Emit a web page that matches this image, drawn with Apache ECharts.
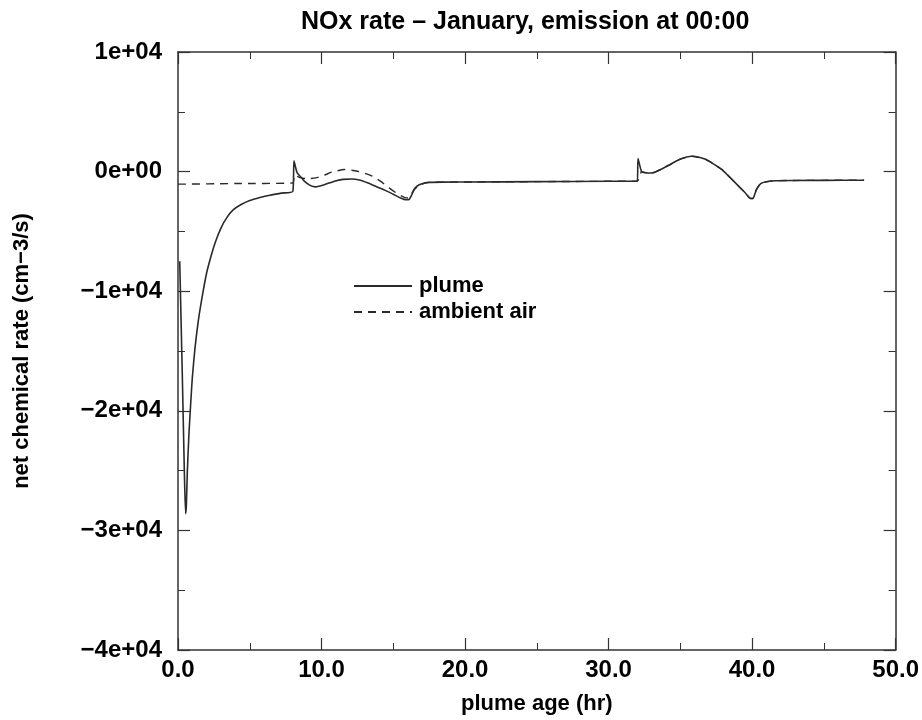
<!DOCTYPE html>
<html>
<head>
<meta charset="utf-8">
<script src="https://cdn.jsdelivr.net/npm/echarts@6/dist/echarts.min.js"></script>
<style>html,body{margin:0;padding:0;background:#fff}#c{width:922px;height:720px}</style>
</head>
<body>
<div id="c"></div>
<script>
// ---- data ----
var titleText = 'NOx rate \u2013 January, emission at 00:00';
var xName = 'plume age (hr)';
var yName = 'net chemical rate (cm\u22123/s)';
var seriesNames = ['plume', 'ambient air'];

var xTickValues = [0, 10, 20, 30, 40, 50];
var xTickLabels = ['0.0', '10.0', '20.0', '30.0', '40.0', '50.0'];
var yTickValues = [10000, 0, -10000, -20000, -30000, -40000];
var yTickLabels = ['1e+04', '0e+00', '\u22121e+04', '\u22122e+04', '\u22123e+04', '\u22124e+04'];

var plumeX = [0.12, 0.3, 0.45, 0.53, 0.58, 0.65, 0.76, 0.88, 1.0, 1.18, 1.4, 1.65, 1.99, 2.27, 2.6, 3.0, 3.4, 3.84, 4.4, 5.0, 5.7, 6.4, 7.2, 8.0,
  8.08, 8.3, 8.6, 8.8, 9.2, 9.6, 10.2, 10.9, 11.5, 12.1, 12.7, 13.2, 13.8, 14.4, 15.0, 15.5, 15.9, 16.1, 16.3, 16.5, 16.8, 17.2, 17.5, 18.5, 20, 25, 30, 32.0,
  32.05, 32.3, 32.6, 33.0, 33.7, 34.3, 34.9, 35.8, 36.7, 37.3, 37.9, 38.3, 38.8, 39.5, 39.9, 40.05, 40.3, 40.6, 41.0, 41.6, 43, 45, 47.8];
var plumeY = [-7500, -17000, -25500, -28600, -28000, -25100, -22000, -19500, -17200, -14800, -12600, -10700, -8500, -7200, -5900, -4700, -3850, -3200, -2750, -2420, -2170, -1970, -1800, -1650,
  900, -100, -500, -800, -1150, -1280, -1100, -800, -650, -620, -720, -940, -1250, -1550, -1900, -2200, -2350, -2330, -1900, -1400, -1100, -950, -900, -880, -870, -840, -810, -800,
  1100, 0, -100, -120, 220, 600, 1000, 1280, 1050, 650, 170, -300, -900, -1750, -2250, -2250, -1500, -1000, -850, -760, -740, -730, -720];

var ambientX = [0.0, 4.0, 8.0, 8.1, 8.5, 9.0, 9.6, 10.2, 10.7, 11.6, 12.5, 13.45, 14.1, 14.8, 15.2, 15.6, 15.9, 16.1, 16.4, 16.8, 17.2, 17.5, 18.5, 20, 25, 30, 32.0,
  32.3, 32.6, 33.0, 33.7, 34.3, 34.9, 35.8, 36.7, 37.3, 37.9, 38.3, 38.8, 39.5, 39.9, 40.05, 40.3, 40.6, 41.0, 41.6, 43, 45, 47.8];
var ambientY = [-1050, -1000, -950, -300, -500, -600, -530, -300, -50, 170, 30, -330, -800, -1440, -1780, -2050, -2200, -2150, -1600, -1150, -950, -900, -880, -870, -840, -810, -800,
  0, -100, -120, 220, 600, 1000, 1280, 1050, 650, 170, -300, -900, -1750, -2250, -2250, -1500, -1000, -850, -760, -740, -730, -720];

function pairs(xs, ys) { return xs.map(function (x, i) { return [x, ys[i]]; }); }

var FONT = '"Liberation Sans", Arial, sans-serif';
var LINE = '#2a2a2a';
var AX = '#333';

var chart = echarts.init(document.getElementById('c'), null, { renderer: 'canvas' });

function xLabel(v) { var i = xTickValues.indexOf(v); return i >= 0 ? xTickLabels[i] : ''; }
function yLabel(v) { var i = yTickValues.indexOf(v); return i >= 0 ? yTickLabels[i] : ''; }

var baseX = {
  type: 'value', min: 0, max: 50, interval: 10,
  axisLine: { show: true, onZero: false, lineStyle: { color: AX, width: 1.5 } },
  axisTick: { show: true, inside: true, length: 12, lineStyle: { color: AX, width: 1.2 } },
  minorTick: { show: true, splitNumber: 2, length: 7, lineStyle: { color: AX, width: 1 } },
  splitLine: { show: false }
};
var baseY = {
  type: 'value', min: -40000, max: 10000, interval: 10000,
  axisLine: { show: true, onZero: false, lineStyle: { color: AX, width: 1.5 } },
  axisTick: { show: true, inside: true, length: 12, lineStyle: { color: AX, width: 1.2 } },
  minorTick: { show: true, splitNumber: 2, length: 7, lineStyle: { color: AX, width: 1 } },
  splitLine: { show: false }
};

chart.setOption({
  backgroundColor: '#fff',
  animation: false,
  title: {
    text: titleText, left: 296, top: 5,
    textStyle: { fontFamily: FONT, fontSize: 25, fontWeight: 'bold', color: '#000' }
  },
  legend: {
    orient: 'vertical', left: 348, top: 269,
    itemWidth: 58, itemHeight: 14, itemGap: 2,
    itemStyle: { opacity: 0 },
    textStyle: { fontFamily: FONT, fontSize: 22, fontWeight: 'bold', color: '#000', lineHeight: 24, padding: [0, 0, 0, 2] },
    data: seriesNames
  },
  grid: { left: 178, right: 24, top: 52, bottom: 68, containLabel: false },
  xAxis: [
    Object.assign({}, baseX, {
      position: 'bottom',
      name: xName, nameLocation: 'middle', nameGap: 43,
      nameTextStyle: { fontFamily: FONT, fontSize: 22, fontWeight: 'bold', color: '#000' },
      axisLabel: { show: true, margin: 8, fontFamily: FONT, fontSize: 24, fontWeight: 'bold', color: '#000', formatter: xLabel }
    }),
    Object.assign({}, baseX, { position: 'top', axisLabel: { show: false } })
  ],
  yAxis: [
    Object.assign({}, baseY, {
      position: 'left',
      name: yName, nameLocation: 'middle', nameGap: 145, nameRotate: 90,
      nameTextStyle: { fontFamily: FONT, fontSize: 22, fontWeight: 'bold', color: '#000' },
      axisLabel: { show: true, margin: 16, fontFamily: FONT, fontSize: 24, fontWeight: 'bold', color: '#000', formatter: yLabel }
    }),
    Object.assign({}, baseY, { position: 'right', axisLabel: { show: false } })
  ],
  series: [
    {
      name: seriesNames[0], type: 'line', data: pairs(plumeX, plumeY),
      symbol: 'none', smooth: 0.2, xAxisIndex: 0, yAxisIndex: 0,
      lineStyle: { color: LINE, width: 1.6, type: 'solid' }, itemStyle: { color: LINE }
    },
    {
      name: seriesNames[1], type: 'line', data: pairs(ambientX, ambientY),
      symbol: 'none', smooth: 0.2, xAxisIndex: 0, yAxisIndex: 0,
      lineStyle: { color: LINE, width: 1.4, type: [8, 6] }, itemStyle: { color: LINE }
    }
  ]
});
</script>
</body>
</html>
